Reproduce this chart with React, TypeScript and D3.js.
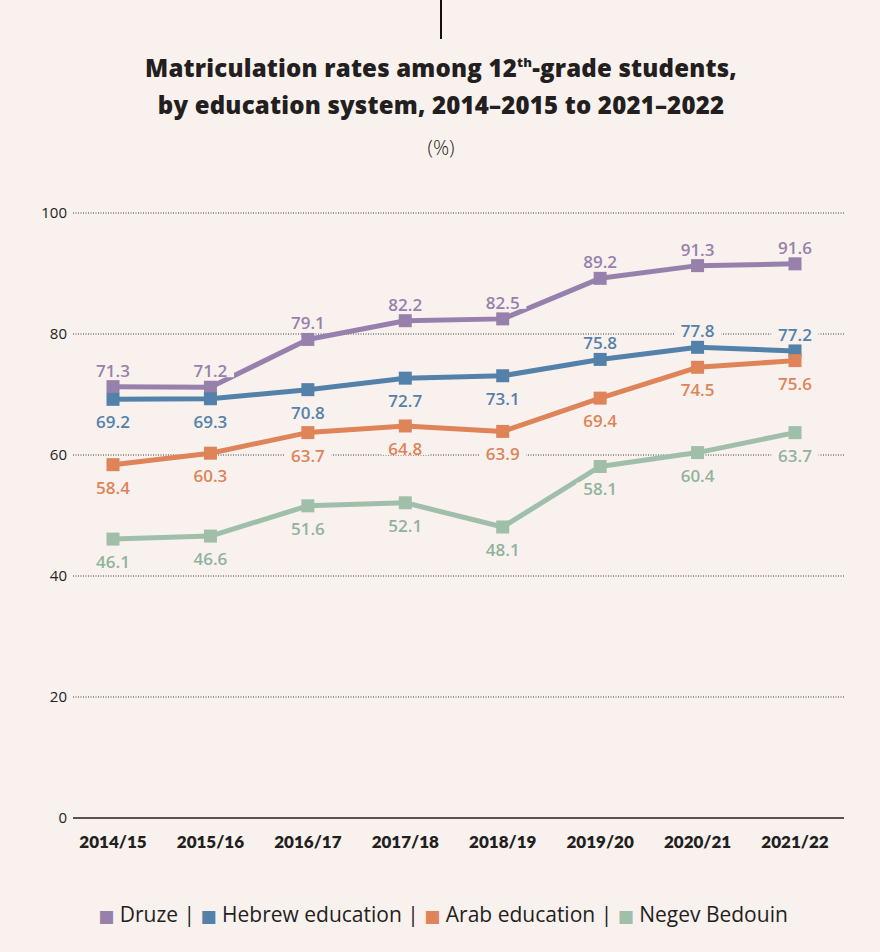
import React from "react";
import * as d3 from "d3";

const categories = ["2014/15", "2015/16", "2016/17", "2017/18", "2018/19", "2019/20", "2020/21", "2021/22"];
const druze = [71.3, 71.2, 79.1, 82.2, 82.5, 89.2, 91.3, 91.6];
const hebrew = [69.2, 69.3, 70.8, 72.7, 73.1, 75.8, 77.8, 77.2];
const arab = [58.4, 60.3, 63.7, 64.8, 63.9, 69.4, 74.5, 75.6];
const negev = [46.1, 46.6, 51.6, 52.1, 48.1, 58.1, 60.4, 63.7];
const yTicks = [0, 20, 40, 60, 80, 100];
const seriesNames = ["Druze", "Hebrew education", "Arab education", "Negev Bedouin"];
// label placement per point: 1 = above, -1 = below
const druzePos = [1, 1, 1, 1, 1, 1, 1, 1];
const hebrewPos = [-1, -1, -1, -1, -1, 1, 1, 1];
const arabPos = [-1, -1, -1, -1, -1, -1, -1, -1];
const negevPos = [-1, -1, -1, -1, -1, -1, -1, -1];

const colors = ["#9781ac", "#5481aa", "#de8458", "#a0bfaa"];
const labelColors = ["#9781ac", "#5481aa", "#de8458", "#90b39c"];
const BG = "#f9f1ee";

const series = [
  { name: seriesNames[0], values: druze, pos: druzePos, color: colors[0], lc: labelColors[0] },
  { name: seriesNames[1], values: hebrew, pos: hebrewPos, color: colors[1], lc: labelColors[1] },
  { name: seriesNames[2], values: arab, pos: arabPos, color: colors[2], lc: labelColors[2] },
  { name: seriesNames[3], values: negev, pos: negevPos, color: colors[3], lc: labelColors[3] },
];

const W = 880;
const H = 952;

export default function App() {
  const x = d3.scalePoint<string>().domain(categories).range([113, 795]);
  const y = d3.scaleLinear().domain([0, 100]).range([818, 213]);
  const line = d3
    .line<number>()
    .x((_, i) => x(categories[i]) as number)
    .y((d) => y(d));

  const lato = "Lato, 'Open Sans', sans-serif";
  const open = "'Open Sans', Lato, sans-serif";
  const labelW = (s: string) => s.length * 8.8;

  return (
    <div style={{ position: "absolute", left: 0, top: 0, width: W, height: H }}>
      <svg width={W} height={H} style={{ display: "block" }}>
        <rect x={0} y={0} width={W} height={H} fill={BG} />
        <line x1={441} x2={441} y1={0} y2={39} stroke="#111" strokeWidth={2} />
        <text
          x={441}
          y={77}
          textAnchor="middle"
          fontFamily={open}
          fontWeight={800}
          fontSize={24}
          letterSpacing={0.2}
          fill="#231f20"
        >
          Matriculation rates among 12
          <tspan fontSize={13} dy={-10}>th</tspan>
          <tspan dy={10}>-grade students,</tspan>
        </text>
        <text
          x={441}
          y={114}
          textAnchor="middle"
          fontFamily={open}
          fontWeight={800}
          fontSize={24}
          letterSpacing={0.2}
          fill="#231f20"
        >
          by education system, 2014–2015 to 2021–2022
        </text>
        <text x={441} y={155} textAnchor="middle" fontFamily={open} fontWeight={300} fontSize={20} fill="#231f20">
          (%)
        </text>

        {/* gridlines */}
        {yTicks.map((t) => (
          <g key={t}>
            <line
              x1={73}
              x2={844}
              y1={y(t)}
              y2={y(t)}
              stroke={t === 0 ? "#231f20" : "#3a3a3a"}
              strokeWidth={t === 0 ? 1.5 : 1}
              strokeDasharray={t === 0 ? undefined : "1,1.5"}
            />
            <text
              x={67}
              y={y(t) + 5}
              textAnchor="end"
              fontFamily={open}
              fontSize={15}
              fill="#231f20"
            >
              {t}
            </text>
          </g>
        ))}

        {/* x labels */}
        {categories.map((c) => (
          <text
            key={c}
            x={x(c)}
            y={848}
            textAnchor="middle"
            fontFamily={lato}
            fontWeight={800}
            fontSize={17}
            fill="#231f20"
          >
            {c}
          </text>
        ))}

        {/* lines */}
        {series.map((s) => (
          <path key={s.name} d={line(s.values) || ""} fill="none" stroke={s.color} strokeWidth={5} strokeLinejoin="round" />
        ))}
        {/* markers */}
        {series.map((s) =>
          s.values.map((v, i) => (
            <rect
              key={s.name + i}
              x={(x(categories[i]) as number) - 6.5}
              y={y(v) - 6.5}
              width={13}
              height={13}
              fill={s.color}
            />
          ))
        )}
        {/* labels */}
        {series.map((s) =>
          s.values.map((v, i) => {
            const cx = x(categories[i]) as number;
            const base = s.pos[i] > 0 ? y(v) - 10 : y(v) + 29;
            const str = v.toFixed(1);
            const w = labelW(str);
            return (
              <g key={s.name + "l" + i}>
                <rect x={cx - w / 2 - 6} y={base - 13} width={w + 12} height={13} fill={BG} />
                <text
                  x={cx}
                  y={base}
                  textAnchor="middle"
                  fontFamily={open}
                  fontWeight={600}
                  fontSize={17}
                  fill={s.lc}
                >
                  {str}
                </text>
              </g>
            );
          })
        )}

        {/* legend */}
        <text x={443} y={922} textAnchor="middle" fontFamily={open} fontSize={21} fill="#231f20">
          {seriesNames.map((name, i) => (
            <React.Fragment key={name}>
              <tspan fill={colors[i]} fontFamily="'DejaVu Sans'" fontSize={17}>■</tspan>
              <tspan> {name}</tspan>
              {i < seriesNames.length - 1 ? <tspan> | </tspan> : null}
            </React.Fragment>
          ))}
        </text>
      </svg>
    </div>
  );
}
